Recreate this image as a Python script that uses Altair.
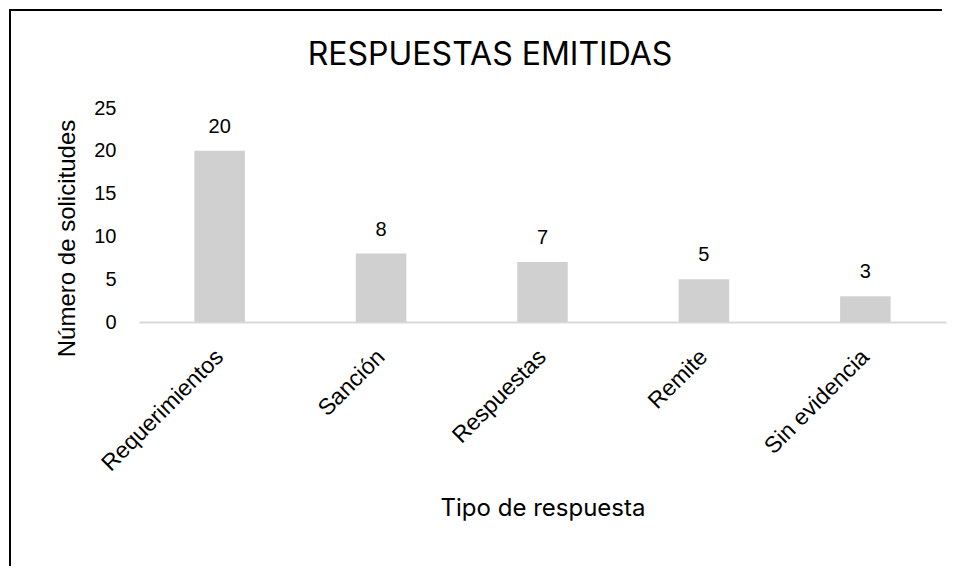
import altair as alt
import pandas as pd

categorias = ["Requerimientos", "Sanción", "Respuestas", "Remite", "Sin evidencia"]
valores = [20, 8, 7, 5, 3]
y_ticks = [0, 5, 10, 15, 20, 25]
titulo = "RESPUESTAS EMITIDAS"

df = pd.DataFrame({"tipo": categorias, "n": valores})

W, H = 807, 214
PAD = {"left": 131, "top": 100, "right": 2, "bottom": 244}

x_enc = alt.X(
    "tipo:N",
    sort=categorias,
    scale=alt.Scale(paddingInner=0.687, paddingOuter=0.343),
    axis=alt.Axis(
        title="Tipo de respuesta",
        labelAngle=-45,
        labelAlign="right",
        labelBaseline="middle",
        labelPadding=31,
        labelFont="Liberation Sans",
        labelFontSize=23,
        labelColor="#000000",
        ticks=False,
        domainColor="#d9d9d9",
        domainWidth=2,
        titleFont="Inter",
        titleFontSize=24,
        titleFontWeight="normal",
        titleColor="#000000",
        titleBaseline="middle",
        titleY=186,
    ),
)

y_enc = alt.Y(
    "n:Q",
    scale=alt.Scale(domain=[0, 25], nice=False),
    axis=alt.Axis(
        title="Número de solicitudes",
        values=y_ticks,
        grid=False,
        domain=False,
        ticks=False,
        labelPadding=23,
        labelFont="Liberation Sans",
        labelFontSize=20,
        labelColor="#000000",
        titleFont="Liberation Sans",
        titleFontSize=24,
        titleFontWeight="normal",
        titleColor="#000000",
        titleAngle=-90,
        titleAlign="center",
        titleBaseline="middle",
        titleX=-72,
        titleY=130,
    ),
)

base = alt.Chart(df)

bars = base.mark_bar(color="#d0d0d0").encode(x=x_enc, y=y_enc)

labels = base.mark_text(
    font="Liberation Sans", fontSize=20, color="#000000", baseline="alphabetic", dy=-18
).encode(x=alt.X("tipo:N", sort=categorias), y=alt.Y("n:Q"), text="n:Q")

frame_df = pd.DataFrame({"a": [0]})
border_left = alt.Chart(frame_df).mark_rule(
    color="#000000", strokeWidth=2, clip=False
).encode(x=alt.value(-129), y=alt.value(-99), y2=alt.value(600))
border_top = alt.Chart(frame_df).mark_rule(
    color="#000000", strokeWidth=2, clip=False
).encode(x=alt.value(-130), x2=alt.value(803), y=alt.value(-98))

title_mark = alt.Chart(pd.DataFrame({"t": [titulo]})).mark_text(
    font="Inter", fontSize=32, color="#000000", baseline="alphabetic", align="center"
).encode(x=alt.value(351), y=alt.value(-43), text="t:N")

chart = (
    alt.layer(border_left, border_top, title_mark, bars, labels)
    .properties(
        width=W,
        height=H,
        padding=PAD,
        autosize=alt.AutoSizeParams(type="none"),
        view=alt.ViewBackground(stroke="transparent", strokeWidth=0),
    )
    .configure_view(strokeWidth=0, stroke="transparent")
    .configure(background="#ffffff")
)

chart.save("out.html", embed_options={"renderer": "svg", "actions": False})
